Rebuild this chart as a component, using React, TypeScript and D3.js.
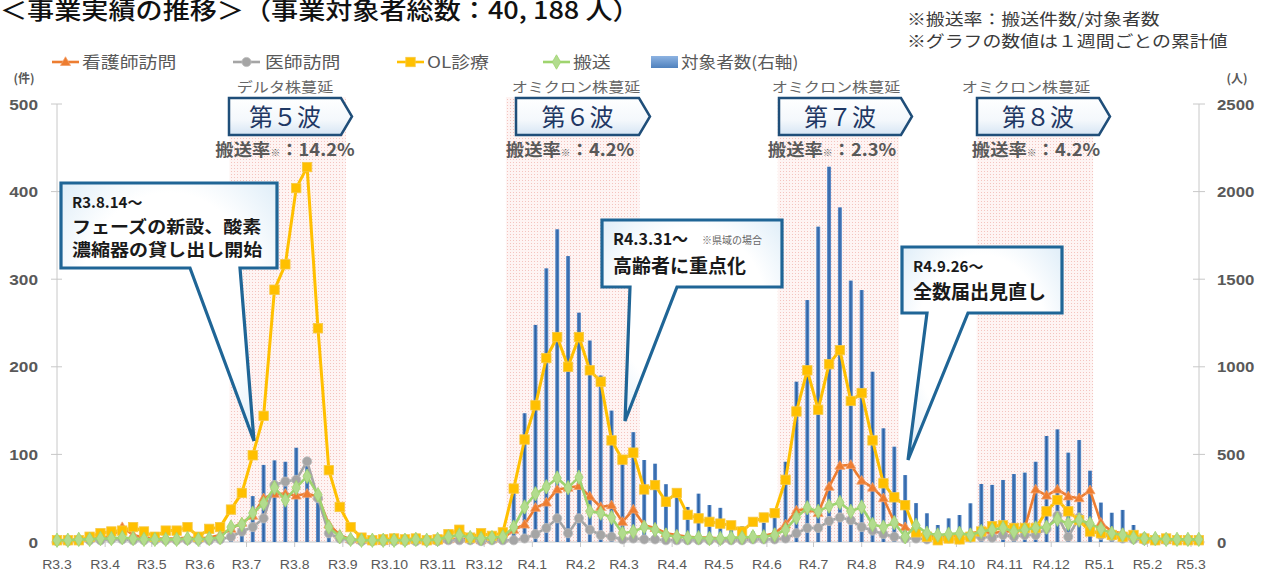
import React from "react";
import * as d3 from "d3";

// ---------- data ----------
const monthLabels = [
  "R3.3", "R3.4", "R3.5", "R3.6", "R3.7", "R3.8", "R3.9", "R3.10", "R3.11", "R3.12",
  "R4.1", "R4.2", "R4.3", "R4.4", "R4.5", "R4.6", "R4.7", "R4.8", "R4.9", "R4.10",
  "R4.11", "R4.12", "R5.1", "R5.2", "R5.3",
];
const firstWeek = "2021-03-01";

// OL診療 (left axis)
const olValues = [
  2, 2, 2, 6, 10, 12, 13, 17, 12, 6,
  13, 13, 17, 6, 15, 17, 37, 56, 99, 144,
  288, 317, 404, 428, 244, 82, 40, 17, 5, 2,
  3, 4, 3, 4, 2, 3, 9, 14, 5, 10,
  7, 11, 61, 117, 156, 210, 234, 200, 234, 196,
  183, 116, 94, 102, 60, 65, 46, 56, 31, 27,
  23, 21, 19, 12, 23, 28, 33, 71, 149, 196,
  151, 203, 219, 161, 170, 116, 67, 51, 42, 11,
  6, 2, 4, 3, 6, 12, 18, 19, 16, 16,
  16, 35, 48, 35, 25, 12, 10, 8, 6, 8,
  4, 2, 4, 2, 2, 2,
];
// 看護師訪問
const nurseValues = [
  2, 2, 3, 4, 5, 6, 17, 8, 5, 4,
  4, 4, 5, 4, 5, 8, 15, 22, 30, 50,
  55, 55, 53, 55, 52, 20, 8, 3, 2, 2,
  1, 2, 2, 2, 2, 2, 3, 4, 3, 2,
  3, 4, 14, 20, 39, 45, 60, 62, 64, 52,
  40, 42, 23, 37, 19, 16, 10, 8, 6, 5,
  5, 4, 4, 5, 5, 7, 10, 20, 36, 38,
  33, 63, 87, 88, 70, 62, 50, 23, 17, 9,
  7, 6, 6, 8, 10, 12, 10, 12, 12, 16,
  60, 53, 60, 52, 50, 59, 22, 12, 10, 6,
  4, 3, 2, 2, 2, 2,
];
// 医師訪問
const doctorValues = [
  1, 1, 2, 2, 2, 3, 3, 2, 2, 2,
  2, 2, 2, 2, 2, 3, 6, 12, 17, 27,
  65, 69, 71, 92, 50, 10, 4, 2, 1, 1,
  1, 1, 1, 1, 1, 1, 2, 2, 2, 1,
  2, 2, 2, 4, 9, 16, 27, 10, 27, 14,
  8, 6, 3, 4, 3, 3, 2, 2, 2, 2,
  2, 2, 2, 2, 3, 3, 3, 4, 10, 16,
  16, 24, 28, 25, 17, 13, 9, 6, 4, 4,
  3, 5, 4, 3, 5, 6, 5, 8, 6, 8,
  8, 15, 30, 6, 28, 15, 8, 6, 4, 3,
  2, 2, 2, 2, 2, 2,
];
// 搬送
const transportValues = [
  2, 2, 3, 3, 4, 4, 5, 4, 3, 3,
  3, 3, 4, 3, 4, 5, 17, 20, 33, 44,
  62, 48, 62, 75, 54, 17, 6, 3, 2, 2,
  2, 2, 2, 3, 2, 3, 6, 8, 5, 4,
  5, 6, 17, 40, 55, 63, 73, 62, 74, 35,
  33, 28, 10, 12, 17, 14, 8, 6, 5, 5,
  4, 4, 5, 5, 6, 6, 8, 14, 28, 39,
  35, 41, 45, 35, 40, 20, 17, 22, 6, 19,
  10, 8, 9, 10, 8, 12, 14, 16, 12, 14,
  16, 17, 26, 21, 25, 21, 15, 10, 8, 5,
  4, 4, 3, 3, 3, 3,
];
// 対象者数 (right axis)
const subjectCounts = [
  10, 8, 12, 15, 18, 20, 25, 20, 15, 12,
  12, 15, 18, 15, 20, 25, 60, 55, 262, 440,
  466, 458, 538, 455, 278, 70, 20, 10, 8, 5,
  5, 5, 5, 5, 6, 8, 10, 15, 12, 12,
  15, 40, 325, 735, 1239, 1562, 1785, 1632, 1309, 1150,
  950, 750, 450, 627, 468, 447, 330, 280, 200, 276,
  211, 195, 110, 90, 60, 110, 140, 458, 915, 1381,
  1800, 2142, 1910, 1492, 1438, 972, 649, 544, 382, 222,
  164, 97, 135, 154, 221, 331, 326, 354, 388, 396,
  458, 605, 643, 510, 582, 407, 225, 167, 183, 97,
  53, 46, 40, 35, 30, 20,
];
const leftTicks = [0, 100, 200, 300, 400, 500];
const rightTicks = [0, 500, 1000, 1500, 2000, 2500];

const waveNames = ["第５波", "第６波", "第７波", "第８波"];
const waveVariants = ["デルタ株蔓延", "オミクロン株蔓延", "オミクロン株蔓延", "オミクロン株蔓延"];
const waveRates = ["14.2%", "4.2%", "2.3%", "4.2%"];
const waveStarts = ["2021-06-20", "2021-12-15", "2022-06-08", "2022-10-14"];
const waveEnds = ["2021-09-03", "2022-03-11", "2022-08-25", "2022-12-28"];

const calloutDates = ["R3.8.14～", "R4.3.31～", "R4.9.26～"];
const calloutNotes = ["", "※県域の場合", ""];
const calloutLines = [
  ["フェーズの新設、酸素", "濃縮器の貸し出し開始"],
  ["高齢者に重点化"],
  ["全数届出見直し"],
];

const titleText = "＜事業実績の推移＞（事業対象者総数：40, 188 人）";
const notes = ["※搬送率：搬送件数/対象者数", "※グラフの数値は１週間ごとの累計値"];

// ---------- layout / style ----------
const W = 1263;
const H = 572;
const JP = "'Noto Sans CJK JP', 'Noto Sans', sans-serif";
const NUM = "'Liberation Sans', Arial, sans-serif";
const GRAY = "#595959";

const seriesStyles = [
  { name: "看護師訪問", values: nurseValues, color: "#ed7d31", marker: "triangle", legendX: 52, textX: 82 },
  { name: "医師訪問", values: doctorValues, color: "#a5a5a5", marker: "circle", legendX: 233, textX: 265 },
  { name: "OL診療", values: olValues, color: "#ffc000", marker: "square", legendX: 397, textX: 427 },
  { name: "搬送", values: transportValues, color: "#9fd46e", marker: "diamond", legendX: 543, textX: 573 },
];

const waveLayout = [
  { label: 285, boxL: 229, boxR: 352, rate: 285 },
  { label: 576, boxL: 516, boxR: 650, rate: 570 },
  { label: 836, boxL: 779, boxR: 912, rate: 832 },
  { label: 1026, boxL: 977, boxR: 1110, rate: 1036 },
];

const calloutLayout = [
  { x0: 61, y0: 183, x1: 277, y1: 268, b0: 190, b1: 240, tx: 254, ty: 441, textX: 72, dateY: 208, dateSize: 15, lineY: [233, 256], lineSize: 17, lineSx: 1.12, noteX: 0 },
  { x0: 602, y0: 220, x1: 782, y1: 287, b0: 630, b1: 677, tx: 625, ty: 421, textX: 613, dateY: 245, dateSize: 16, lineY: [273], lineSize: 19, lineSx: 1.0, noteX: 702 },
  { x0: 902, y0: 247, x1: 1062, y1: 313, b0: 927, b1: 968, tx: 908, ty: 460, textX: 913, dateY: 272, dateSize: 15, lineY: [299], lineSize: 19, lineSx: 1.0, noteX: 0 },
];

const parse = d3.timeParse("%Y-%m-%d");
const reiwaToDate = (s: string) => {
  const [y, m] = s.slice(1).split(".").map(Number);
  return new Date(2018 + y, m - 1, 1);
};

type TP = {
  x: number; y: number; sx?: number; size: number; weight?: number | string;
  fill?: string; anchor?: "start" | "middle" | "end"; family?: string; children: React.ReactNode;
};
const T = ({ x, y, sx = 1, size, weight = 400, fill = GRAY, anchor = "start", family = JP, children }: TP) => (
  <text
    transform={`translate(${x},${y}) scale(${sx},1)`}
    fontSize={size}
    fontWeight={weight}
    fill={fill}
    textAnchor={anchor}
    fontFamily={family}
  >
    {children}
  </text>
);

function Marker({ type, cx, cy, color }: { type: string; cx: number; cy: number; color: string }) {
  if (type === "triangle") {
    const s = 10;
    const h = s * 0.87;
    return (
      <path
        d={`M${cx},${cy - h * 0.6}L${cx + s / 2},${cy + h * 0.4}L${cx - s / 2},${cy + h * 0.4}Z`}
        fill={color}
        stroke="#f4a06a"
        strokeWidth={0.8}
      />
    );
  }
  if (type === "circle") return <circle cx={cx} cy={cy} r={4.6} fill={color} stroke="#bdbdbd" strokeWidth={0.8} />;
  if (type === "square")
    return <rect x={cx - 4.7} y={cy - 4.7} width={9.4} height={9.4} fill={color} stroke="#f7c843" strokeWidth={0.8} />;
  const d = d3.symbol(d3.symbolDiamond, 60)()!;
  return <path d={d} transform={`translate(${cx},${cy})`} fill="#b2dc8e" stroke="#9fd46e" strokeWidth={0.8} />;
}

export default function App() {
  const x = d3
    .scaleTime()
    .domain([reiwaToDate(monthLabels[0]), reiwaToDate(monthLabels[monthLabels.length - 1])])
    .range([57, 1191]);
  const yL = d3.scaleLinear().domain([0, 500]).range([542, 104]);
  const yR = d3.scaleLinear().domain([0, 2500]).range([542, 104]);
  const start = parse(firstWeek)!;
  const weeks = olValues.map((_, i) => d3.timeDay.offset(start, 7 * i));

  const line = d3
    .line<number>()
    .x((_, i) => x(weeks[i]))
    .y((d) => yL(d));

  const barW = 4;

  return (
    <svg
      width={W}
      height={H}
      viewBox={`0 0 ${W} ${H}`}
      style={{ position: "absolute", left: 0, top: 0, background: "#fff" }}
    >
      <defs>
        <linearGradient id="barGrad" x1="0" x2="1" y1="0" y2="0">
          <stop offset="0%" stopColor="#6b97cf" />
          <stop offset="50%" stopColor="#2a62a6" />
          <stop offset="100%" stopColor="#6b97cf" />
        </linearGradient>
        <linearGradient id="legBar" x1="0" x2="0" y1="0" y2="1">
          <stop offset="0%" stopColor="#8db3e2" />
          <stop offset="100%" stopColor="#4f81bd" />
        </linearGradient>
        <linearGradient id="boxFill" x1="0" x2="0" y1="0" y2="1">
          <stop offset="0%" stopColor="#ffffff" />
          <stop offset="60%" stopColor="#f4f8fc" />
          <stop offset="100%" stopColor="#d6e5f4" />
        </linearGradient>
        <radialGradient id="calloutFill" cx="50%" cy="45%" r="75%">
          <stop offset="55%" stopColor="#ffffff" />
          <stop offset="100%" stopColor="#d5e8f6" />
        </radialGradient>
        <pattern id="pinkDots" width="3" height="3" patternUnits="userSpaceOnUse">
          <rect width="3" height="3" fill="#fef4f3" />
          <rect width="1" height="1" fill="#f4c4bf" />
        </pattern>
      </defs>

      {/* title & notes */}
      <T x={0} y={19} size={24} sx={1.13} weight={500} fill="#111">
        {titleText}
      </T>
      {notes.map((n, i) => (
        <T key={n} x={907} y={25 + i * 22} size={16} sx={1.18} fill="#3a3a3a">
          {n}
        </T>
      ))}

      {/* wave bands */}
      {waveStarts.map((s, i) => {
        const x0 = x(parse(s)!);
        const x1 = x(parse(waveEnds[i])!);
        return <rect key={s} x={x0} y={97} width={x1 - x0} height={542 - 97} fill="url(#pinkDots)" />;
      })}

      {/* axes */}
      <line x1={57} x2={57} y1={104} y2={542} stroke="#c8c8c8" />
      <line x1={1199} x2={1199} y1={104} y2={542} stroke="#c8c8c8" />
      <line x1={57} x2={1199} y1={542} y2={542} stroke="#c8c8c8" />
      {leftTicks.map((t) => (
        <g key={"l" + t}>
          <line x1={51} x2={62} y1={yL(t)} y2={yL(t)} stroke="#c8c8c8" />
          <T x={38} y={yL(t) + 5.5} size={15} sx={1.15} weight={700} anchor="end" family={NUM}>
            {t}
          </T>
        </g>
      ))}
      {rightTicks.map((t) => (
        <g key={"r" + t}>
          <line x1={1193} x2={1205} y1={yR(t)} y2={yR(t)} stroke="#c8c8c8" />
          <T x={1217} y={yR(t) + 5.5} size={15} sx={1.12} weight={700} family={NUM}>
            {t}
          </T>
        </g>
      ))}
      {monthLabels.map((m) => {
        const xp = x(reiwaToDate(m));
        return (
          <g key={m}>
            <line x1={xp} x2={xp} y1={542} y2={547} stroke="#c8c8c8" />
            <T x={xp} y={569} size={13} sx={1.08} anchor="middle" family={NUM}>
              {m}
            </T>
          </g>
        );
      })}
      <T x={24} y={83} size={12} weight={700} anchor="middle">
        (件)
      </T>
      <T x={1237} y={83} size={12} weight={700} anchor="middle">
        (人)
      </T>

      {/* bars */}
      {subjectCounts.map((v, i) => (
        <rect
          key={"b" + i}
          x={x(weeks[i]) - barW / 2}
          y={yR(v)}
          width={barW}
          height={542 - yR(v)}
          fill="url(#barGrad)"
        />
      ))}

      {/* lines */}
      {seriesStyles.map((s) => (
        <g key={s.name}>
          <path d={line(s.values)!} fill="none" stroke={s.color} strokeWidth={s.marker === "square" ? 3 : 2.6} strokeLinejoin="round" />
          {s.values.map((v, i) => (
            <Marker key={i} type={s.marker} cx={x(weeks[i])} cy={yL(v)} color={s.color} />
          ))}
        </g>
      ))}

      {/* legend */}
      {seriesStyles.map((s) => (
        <g key={"lg" + s.name}>
          <line x1={s.legendX} x2={s.legendX + 27} y1={62} y2={62} stroke={s.color} strokeWidth={2.6} />
          <Marker type={s.marker} cx={s.legendX + 13.5} cy={62} color={s.color} />
          <T x={s.textX} y={68} size={16} sx={1.18}>
            {s.name}
          </T>
        </g>
      ))}
      <rect x={651} y={56} width={27} height={12} fill="url(#legBar)" />
      <T x={681} y={68} size={16} sx={1.1}>
        対象者数(右軸)
      </T>

      {/* wave labels */}
      {waveNames.map((n, i) => {
        const L = waveLayout[i];
        const d = `M${L.boxL},98H${L.boxR - 11}L${L.boxR},116.5L${L.boxR - 11},135H${L.boxL}Z`;
        return (
          <g key={n}>
            <T x={L.label} y={92} size={14} sx={1.15} anchor="middle" fill="#666">
              {waveVariants[i]}
            </T>
            <path d={d} fill="url(#boxFill)" stroke="#1f4e79" strokeWidth={2.5} />
            <T x={(L.boxL + L.boxR - 11) / 2} y={126} size={24} weight={400} anchor="middle" fill="#1f3864">
              {n}
            </T>
            <T x={L.rate} y={156} size={17} sx={1.08} weight={700} anchor="middle" fill={GRAY}>
              搬送率<tspan fontSize={9}>※</tspan>：{waveRates[i]}
            </T>
          </g>
        );
      })}

      {/* callouts */}
      {calloutDates.map((dt, i) => {
        const c = calloutLayout[i];
        const d = `M${c.x0},${c.y0}H${c.x1}V${c.y1}H${c.b1}L${c.tx},${c.ty}L${c.b0},${c.y1}H${c.x0}Z`;
        return (
          <g key={dt}>
            <path d={d} fill="url(#calloutFill)" stroke="#1f6596" strokeWidth={3.2} strokeLinejoin="miter" />
            <T x={c.textX} y={c.dateY} size={c.dateSize} weight={700} fill="#1a1a1a">
              {dt}
            </T>
            {calloutNotes[i] && (
              <T x={c.noteX} y={c.dateY - 1} size={10} fill="#666">
                {calloutNotes[i]}
              </T>
            )}
            {calloutLines[i].map((ln, j) => (
              <T key={ln} x={c.textX} y={c.lineY[j]} size={c.lineSize} sx={c.lineSx} weight={700} fill="#1a1a1a">
                {ln}
              </T>
            ))}
          </g>
        );
      })}
    </svg>
  );
}
